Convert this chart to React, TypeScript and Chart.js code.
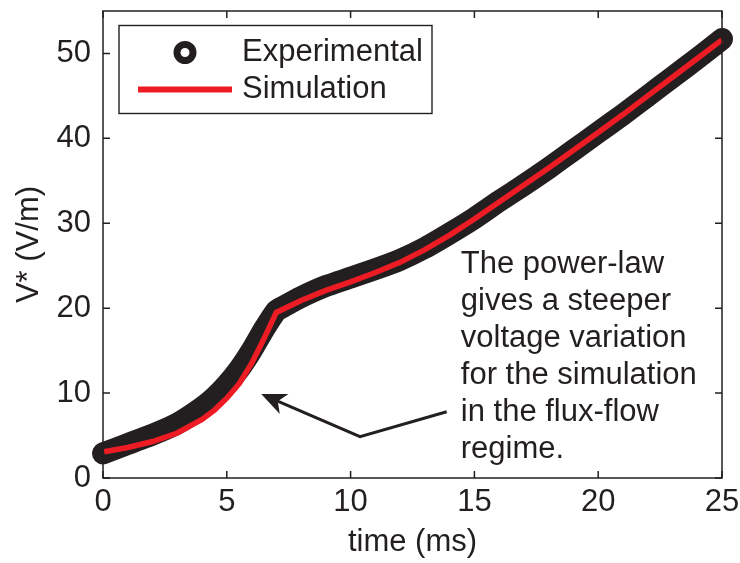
import React, { useEffect, useRef } from "react";
import { Chart, registerables } from "chart.js";

Chart.register(...registerables);

// ---- data ----
const timeExp = [0, 1, 2, 3, 4, 4.5, 5, 5.5, 6, 6.5, 7, 7.3, 8, 9, 10, 11, 12, 13, 14, 15, 16, 17, 18, 19, 20, 21, 22, 23, 24, 25];
const vExp = [2.9, 4.0, 5.1, 6.4, 8.3, 9.5, 11.0, 12.8, 15.0, 17.5, 19.7, 20.2, 21.3, 22.6, 23.6, 24.6, 25.7, 27.1, 28.8, 30.6, 32.6, 34.5, 36.5, 38.6, 40.7, 42.8, 45.0, 47.2, 49.4, 51.7];
const timeSim = [0.05, 1, 2, 3, 4, 4.5, 5, 5.5, 6, 6.5, 7, 8, 9, 10, 11, 12, 13, 14, 15, 16, 17, 18, 19, 20, 21, 22, 23, 24, 25];
const vSim = [3.1, 3.6, 4.3, 5.3, 6.9, 8.0, 9.4, 11.1, 13.5, 16.4, 19.5, 20.9, 22.1, 23.1, 24.2, 25.4, 26.9, 28.6, 30.5, 32.5, 34.5, 36.5, 38.6, 40.7, 42.8, 45.0, 47.2, 49.4, 51.6];
const xTicks = [0, 5, 10, 15, 20, 25];
const yTicks = [0, 10, 20, 30, 40, 50];
const legendLabels = ["Experimental", "Simulation"];
const noteLines = [
  "The power-law",
  "gives a steeper",
  "voltage variation",
  "for the simulation",
  "in the flux-flow",
  "regime.",
];
const noteAnchor = { x: 14.45, y: 25.1 };
// arrow polyline: tail -> vertex -> tip
const arrowX = [13.88, 10.38, 6.39];
const arrowY = [7.8, 4.86, 9.88];

const INK = "#231f20";
const RED = "#ed1c24";
const FONT = "'Liberation Sans', Arial, Helvetica, sans-serif";
const FS = 31;

const zeroPad = (s: any) => {
  s.paddingTop = 0;
  s.paddingBottom = 0;
  s.paddingLeft = 0;
  s.paddingRight = 0;
};

const overlay = {
  id: "overlay",
  afterDatasetsDraw(chart: any) {
    const ctx = chart.ctx;
    const { left, right, top, bottom } = chart.chartArea;
    const xs = chart.scales.x;
    const ys = chart.scales.y;
    ctx.save();
    // axes box
    ctx.strokeStyle = INK;
    ctx.lineWidth = 1.5;
    ctx.strokeRect(left, top, right - left, bottom - top);
    // inward ticks
    const tl = 7;
    ctx.beginPath();
    xTicks.forEach((v) => {
      const px = xs.getPixelForValue(v);
      ctx.moveTo(px, bottom);
      ctx.lineTo(px, bottom - tl);
      ctx.moveTo(px, top);
      ctx.lineTo(px, top + tl);
    });
    yTicks.forEach((v) => {
      const py = ys.getPixelForValue(v);
      ctx.moveTo(left, py);
      ctx.lineTo(left + tl, py);
      ctx.moveTo(right, py);
      ctx.lineTo(right - tl, py);
    });
    ctx.stroke();

    // legend
    const lx = left + 16;
    const ly = top + 14.5;
    const lw = 313;
    const lh = 88;
    ctx.fillStyle = "#ffffff";
    ctx.fillRect(lx, ly, lw, lh);
    ctx.lineWidth = 1.4;
    ctx.strokeStyle = INK;
    ctx.strokeRect(lx, ly, lw, lh);
    // marker
    ctx.beginPath();
    ctx.arc(lx + 66, ly + 27, 8, 0, Math.PI * 2);
    ctx.fillStyle = "#ffffff";
    ctx.fill();
    ctx.lineWidth = 7;
    ctx.strokeStyle = INK;
    ctx.stroke();
    // red line
    ctx.beginPath();
    ctx.moveTo(lx + 19, ly + 64);
    ctx.lineTo(lx + 113, ly + 64);
    ctx.lineWidth = 6;
    ctx.strokeStyle = RED;
    ctx.stroke();
    ctx.fillStyle = INK;
    ctx.font = `${FS}px ${FONT}`;
    ctx.textBaseline = "middle";
    ctx.textAlign = "left";
    ctx.fillText(legendLabels[0], lx + 123, ly + 27);
    ctx.fillText(legendLabels[1], lx + 123, ly + 64);

    // annotation text
    const tx = xs.getPixelForValue(noteAnchor.x);
    const ty = ys.getPixelForValue(noteAnchor.y);
    noteLines.forEach((s, i) => ctx.fillText(s, tx, ty + i * 37));

    // arrow
    const pts = arrowX.map((v, i) => [xs.getPixelForValue(v), ys.getPixelForValue(arrowY[i])]);
    const tip = pts[pts.length - 1];
    const prev = pts[pts.length - 2];
    const dx = tip[0] - prev[0];
    const dy = tip[1] - prev[1];
    const len = Math.hypot(dx, dy);
    const ux = dx / len;
    const uy = dy / len;
    const nx = -uy;
    const ny = ux;
    ctx.beginPath();
    ctx.moveTo(pts[0][0], pts[0][1]);
    ctx.lineTo(pts[1][0], pts[1][1]);
    ctx.lineTo(tip[0] - ux * 16, tip[1] - uy * 16);
    ctx.lineWidth = 3;
    ctx.strokeStyle = INK;
    ctx.lineJoin = "miter";
    ctx.stroke();
    ctx.beginPath();
    ctx.moveTo(tip[0], tip[1]);
    ctx.lineTo(tip[0] - ux * 25 + nx * 11, tip[1] - uy * 25 + ny * 11);
    ctx.lineTo(tip[0] - ux * 18, tip[1] - uy * 18);
    ctx.lineTo(tip[0] - ux * 25 - nx * 11, tip[1] - uy * 25 - ny * 11);
    ctx.closePath();
    ctx.fillStyle = INK;
    ctx.fill();
    ctx.restore();
  },
};

export default function App() {
  const ref = useRef<HTMLCanvasElement | null>(null);
  useEffect(() => {
    document.body.style.margin = "0";
    const canvas = ref.current;
    if (!canvas) return;
    Chart.defaults.font.family = FONT;
    const chart = new Chart(canvas, {
      type: "line",
      data: {
        datasets: [
          {
            label: legendLabels[0],
            data: timeExp.map((t, i) => ({ x: t, y: vExp[i] })),
            borderColor: INK,
            borderWidth: 22,
            borderCapStyle: "round",
            borderJoinStyle: "round",
            pointRadius: 0,
            tension: 0.15,
            clip: false as any,
            order: 1,
          },
          {
            label: legendLabels[1],
            data: timeSim.map((t, i) => ({ x: t, y: vSim[i] })),
            borderColor: RED,
            borderWidth: 5.5,
            borderCapStyle: "butt",
            borderJoinStyle: "miter",
            pointRadius: 0,
            tension: 0,
            clip: false as any,
            order: 0,
          },
        ],
      },
      options: {
        responsive: false,
        animation: false,
        events: [],
        layout: { padding: { top: 11, right: 18, left: 0, bottom: 0 } },
        plugins: { legend: { display: false }, tooltip: { enabled: false } },
        scales: {
          x: {
            type: "linear",
            min: 0,
            max: 25,
            grid: { display: false, drawTicks: false },
            border: { display: false },
            afterBuildTicks: (s: any) => {
              s.ticks = xTicks.map((v) => ({ value: v }));
            },
            afterFit: (s: any) => {
              s.height = 85;
              zeroPad(s);
            },
            ticks: { color: INK, font: { size: FS }, padding: 6, maxRotation: 0 },
            title: {
              display: true,
              text: "time (ms)",
              color: INK,
              font: { size: FS },
              padding: { top: 0, bottom: 2 },
            },
          },
          y: {
            type: "linear",
            min: 0,
            max: 55,
            grid: { display: false, drawTicks: false },
            border: { display: false },
            afterBuildTicks: (s: any) => {
              s.ticks = yTicks.map((v) => ({ value: v }));
            },
            afterFit: (s: any) => {
              s.width = 103;
              zeroPad(s);
            },
            ticks: { color: INK, font: { size: FS }, padding: 12 },
            title: {
              display: true,
              text: "V* (V/m)",
              color: INK,
              font: { size: FS },
              padding: { top: 11, bottom: 0 },
            },
          },
        },
      },
      plugins: [overlay],
    });
    return () => chart.destroy();
  }, []);
  return (
    <div style={{ position: "fixed", left: 0, top: 0, width: 740, height: 563, background: "#fff" }}>
      <canvas ref={ref} width={740} height={563} style={{ display: "block" }} />
    </div>
  );
}
